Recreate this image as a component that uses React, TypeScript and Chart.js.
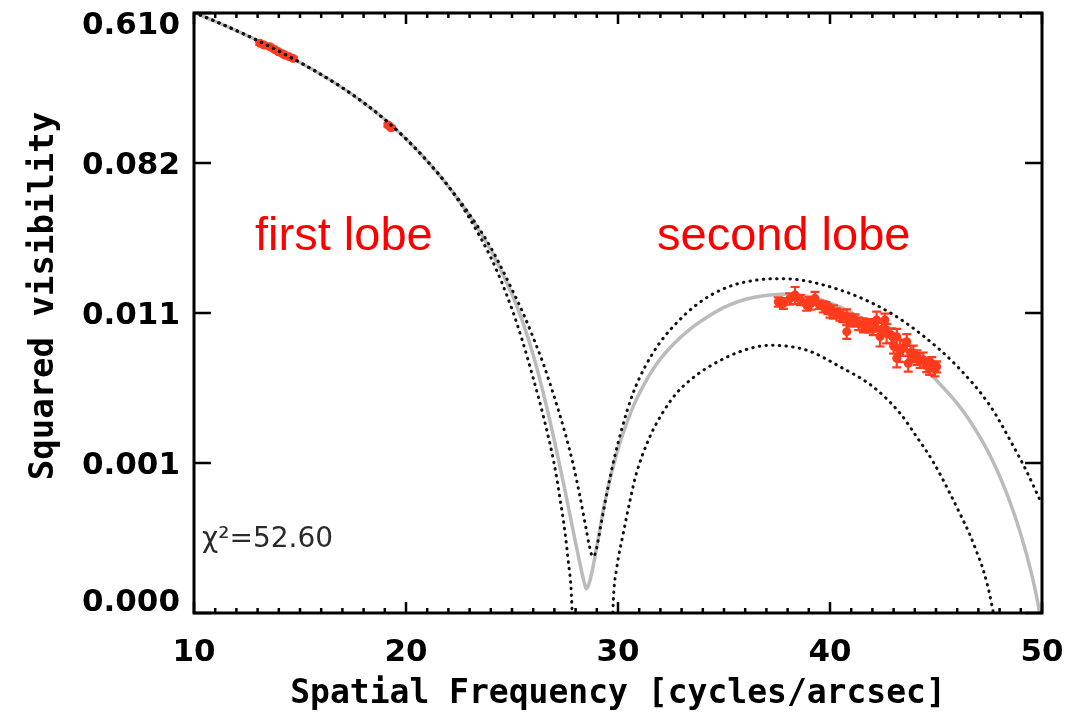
import React, { useEffect, useRef } from 'react';
import { Chart, registerables } from 'chart.js';
Chart.register(...registerables);

// ---- axes ----
const xMin = 10;
const xMax = 50;
const xTickValues = [10, 20, 30, 40, 50];
const yTickValues = [0.00020463, 0.0015121, 0.011173, 0.082554, 0.61];
const yTickLabels = ['0.000', '0.001', '0.011', '0.082', '0.610'];
const xTitle = 'Spatial Frequency [cycles/arcsec]';
const yTitle = 'Squared visibility';

// ---- best-fit model (grey) ----
const modelX = [10, 11, 12, 13, 14, 15, 16, 17, 18, 19, 20, 21, 22, 23, 24, 25, 25.5, 26, 26.5, 27, 27.5, 27.9, 28.2, 28.4, 28.5, 28.6, 28.7, 28.8, 28.92, 29.1, 29.31, 29.55, 29.78, 30.0, 30.25, 30.75, 31.25, 31.83, 32.61, 33.4, 34.18, 35.0, 35.75, 36.5, 37.33, 38.0, 39, 40, 41, 42, 43, 44, 45, 46, 46.6, 47.2, 47.6, 48.0, 48.5, 49.0, 49.5, 49.8, 50];
const modelV = [0.6145, 0.5463, 0.4826, 0.4227, 0.367, 0.3155, 0.2683, 0.2249, 0.1846, 0.1474, 0.1139, 0.0848, 0.0605, 0.041, 0.02574, 0.01434, 0.00995, 0.00638, 0.00374, 0.00204, 0.001049, 0.000599, 0.000398, 0.00031, 0.000283, 0.000295, 0.000323, 0.000367, 0.000439, 0.000581, 0.000809, 0.001114, 0.001458, 0.001818, 0.002265, 0.00328, 0.004361, 0.005685, 0.007372, 0.009005, 0.010515, 0.012034, 0.01311, 0.013843, 0.014264, 0.014408, 0.013926, 0.012793, 0.011255, 0.009506, 0.007728, 0.006054, 0.004585, 0.003346, 0.002648, 0.002009, 0.001622, 0.001271, 0.000891, 0.000584, 0.0003483, 0.0002358, 0.0001687];

// ---- lower bound model (dotted) ----
const lowerX = [10, 11, 12, 13, 14, 15, 16, 17, 18, 19, 20, 21, 22, 23, 24, 24.5, 25, 25.5, 26, 26.5, 27, 27.25, 27.5, 27.65, 27.8, 27.95, 28.8, 29.65, 29.78, 29.95, 30.25, 30.57, 30.85, 31.51, 32.14, 32.77, 33.4, 34.18, 35.75, 37.17, 38.9, 40.47, 42.04, 43.3, 44.1, 44.87, 45.66, 46.13, 46.6, 46.92, 47.23, 47.63, 47.75, 47.9];
const lowerV = [0.6145, 0.5463, 0.4826, 0.4227, 0.367, 0.3155, 0.2683, 0.2249, 0.1846, 0.1474, 0.1139, 0.0848, 0.0605, 0.03939, 0.02341, 0.017, 0.01174, 0.00764, 0.00468, 0.002754, 0.001474, 0.000964, 0.0005995, 0.000412, 0.0002627, 0.00008, 0.00001, 0.00008, 0.0002436, 0.000378, 0.000593, 0.000921, 0.001294, 0.002155, 0.002998, 0.003849, 0.004562, 0.005353, 0.00667, 0.007262, 0.006806, 0.005462, 0.004169, 0.002938, 0.002133, 0.001534, 0.001008, 0.000769, 0.000581, 0.000462, 0.000363, 0.000229, 0.000184, 0.0000914];

// ---- upper bound model (dotted) ----
const upperX = [10, 11, 12, 13, 14, 15, 16, 17, 18, 19, 20, 21, 22, 23, 24, 24.5, 25, 25.53, 26, 26.5, 27, 27.5, 27.9, 28.2, 28.5, 28.65, 28.8, 28.9, 29.0, 29.2, 29.5, 29.8, 30.2, 30.7, 31.3, 32.0, 32.8, 33.6, 34.5, 35.5, 36.5, 37.5, 38.5, 39.68, 41.26, 42.83, 44.4, 45.98, 47.55, 48.65, 49.3, 49.91, 50];
const upperV = [0.6145, 0.5463, 0.4826, 0.4227, 0.367, 0.3155, 0.2683, 0.2249, 0.1846, 0.1474, 0.1139, 0.0848, 0.0605, 0.04159, 0.02678, 0.02044, 0.0153, 0.01111, 0.008067, 0.005572, 0.003624, 0.002265, 0.001458, 0.000978, 0.000624, 0.0005005, 0.000435, 0.000444, 0.000491, 0.000669, 0.001049, 0.001565, 0.002431, 0.00381, 0.005528, 0.007597, 0.009894, 0.01218, 0.014454, 0.016294, 0.0173, 0.01765, 0.017422, 0.016244, 0.013982, 0.011221, 0.00823, 0.005517, 0.003246, 0.001892, 0.001333, 0.000921, 0.000876];

// ---- observations ----
const obsX = [13.11, 13.3, 13.58, 13.8, 13.98, 14.15, 14.29, 14.5, 14.68, 19.15, 19.3,
  37.56, 37.8, 38.1, 38.35, 38.6, 38.9, 39.0, 39.1, 39.29, 39.5, 39.68, 39.8, 39.9, 40.0, 40.16, 40.3, 40.47, 40.6, 40.79, 40.79, 40.9, 41.0, 41.18, 41.35, 41.57, 41.7, 41.8, 42.04, 42.1, 42.2, 42.36, 42.45, 42.59, 42.67, 42.9, 43.0, 43.15, 43.15, 43.3, 43.45, 43.62, 43.69, 43.8, 43.93, 44.1, 44.25, 44.4, 44.56, 44.7, 44.8, 44.95, 45.03];
const obsV = [0.407, 0.398, 0.389, 0.375, 0.364, 0.356, 0.348, 0.34, 0.333, 0.137, 0.132,
  0.01295, 0.01271, 0.0135, 0.0142, 0.0133, 0.01243, 0.013, 0.0127, 0.01359, 0.0125, 0.01215, 0.0121, 0.0118, 0.0114, 0.01137, 0.0112, 0.01088, 0.0108, 0.01064, 0.00871, 0.0103, 0.01, 0.01018, 0.0097, 0.00952, 0.0096, 0.0093, 0.00911, 0.0095, 0.01018, 0.00815, 0.009, 0.01018, 0.00856, 0.0083, 0.0072, 0.00815, 0.00611, 0.00683, 0.007, 0.00762, 0.00571, 0.0066, 0.00653, 0.0062, 0.00597, 0.006, 0.00558, 0.0054, 0.0057, 0.0053, 0.00546];
const obsErr = [0.008, 0.008, 0.008, 0.007, 0.007, 0.007, 0.007, 0.007, 0.006, 0.003, 0.003,
  0.0008, 0.0009, 0.001, 0.0016, 0.0009, 0.0009, 0.0008, 0.001, 0.0012, 0.0007, 0.0009, 0.0008, 0.0008, 0.0009, 0.001, 0.0007, 0.0008, 0.0009, 0.0011, 0.0008, 0.0008, 0.0007, 0.0008, 0.0008, 0.0009, 0.0007, 0.0007, 0.0008, 0.0008, 0.0012, 0.001, 0.0008, 0.0009, 0.0011, 0.0008, 0.0007, 0.0009, 0.0007, 0.001, 0.0007, 0.0008, 0.0006, 0.0006, 0.0007, 0.0006, 0.0006, 0.0006, 0.0005, 0.0005, 0.0005, 0.0005, 0.0004];

// ---- annotations ----
const notes = [
  { text: 'first lobe', x: 12.88, y: 0.0259, color: '#ff0000', font: '47px "Liberation Sans", Arial, sans-serif' },
  { text: 'second lobe', x: 31.84, y: 0.0259, color: '#ff0000', font: '47px "Liberation Sans", Arial, sans-serif' },
  { text: 'χ²=52.60', x: 10.38, y: 0.000493, color: '#2a2a2a', font: '28px "DejaVu Sans", sans-serif' },
];

const toXY = (xs: number[], ys: number[]) => xs.map((x, i) => ({ x, y: ys[i] }));

const OBS_INDEX = 1;
const RED = '#ff3b1e';

const errorBarPlugin = {
  id: 'errorBars',
  afterDatasetDraw(chart: any, args: any) {
    if (args.index !== OBS_INDEX) return;
    const { ctx, scales, chartArea: a } = chart;
    const x = scales.x;
    const y = scales.y;
    ctx.save();
    ctx.beginPath();
    ctx.rect(a.left, a.top, a.right - a.left, a.bottom - a.top);
    ctx.clip();
    ctx.strokeStyle = RED;
    ctx.lineWidth = 2.2;
    ctx.beginPath();
    for (let i = 0; i < obsX.length; i++) {
      const px = x.getPixelForValue(obsX[i]);
      const p1 = y.getPixelForValue(obsV[i] + obsErr[i]);
      const p2 = y.getPixelForValue(Math.max(obsV[i] - obsErr[i], 1e-6));
      ctx.moveTo(px, p1);
      ctx.lineTo(px, p2);
      ctx.moveTo(px - 4.5, p1);
      ctx.lineTo(px + 4.5, p1);
      ctx.moveTo(px - 4.5, p2);
      ctx.lineTo(px + 4.5, p2);
    }
    ctx.stroke();
    ctx.restore();
  },
};

const framePlugin = {
  id: 'frame',
  afterDatasetsDraw(chart: any) {
    const { ctx, chartArea: a, scales } = chart;
    const x = scales.x;
    const y = scales.y;
    ctx.save();
    ctx.strokeStyle = '#000';
    ctx.lineWidth = 3;
    ctx.strokeRect(a.left, a.top, a.right - a.left, a.bottom - a.top);
    ctx.lineWidth = 2.5;
    ctx.beginPath();
    for (let v = xMin; v <= xMax; v += 1) {
      const px = x.getPixelForValue(v);
      const len = v % 10 === 0 ? 11 : 5;
      ctx.moveTo(px, a.bottom);
      ctx.lineTo(px, a.bottom - len);
      ctx.moveTo(px, a.top);
      ctx.lineTo(px, a.top + len);
    }
    for (const v of yTickValues) {
      const py = y.getPixelForValue(v);
      ctx.moveTo(a.left, py);
      ctx.lineTo(a.left + 17, py);
      ctx.moveTo(a.right, py);
      ctx.lineTo(a.right - 17, py);
    }
    ctx.stroke();
    ctx.restore();
  },
  afterDraw(chart: any) {
    const { ctx, chartArea: a, scales } = chart;
    // y tick labels (kept inside the axis span, as in the original)
    ctx.save();
    ctx.fillStyle = '#000';
    ctx.font = 'bold 31px "DejaVu Sans", sans-serif';
    ctx.textAlign = 'right';
    ctx.textBaseline = 'middle';
    yTickValues.forEach((v, i) => {
      const py = scales.y.getPixelForValue(v) + 3;
      const cy = Math.min(Math.max(py, a.top + 13), a.bottom - 10);
      ctx.fillText(yTickLabels[i], a.left - 14, cy);
    });
    ctx.restore();

    // y-axis title
    ctx.save();
    ctx.fillStyle = '#000';
    ctx.font = 'bold 34px "DejaVu Sans Mono", monospace';
    ctx.textAlign = 'center';
    ctx.textBaseline = 'alphabetic';
    ctx.translate(53, (a.top + a.bottom) / 2 - 17);
    ctx.rotate(-Math.PI / 2);
    ctx.fillText(yTitle, 0, 0);
    ctx.restore();

    ctx.save();
    ctx.textAlign = 'left';
    ctx.textBaseline = 'alphabetic';
    for (const n of notes) {
      ctx.font = n.font;
      ctx.fillStyle = n.color;
      ctx.fillText(n.text, scales.x.getPixelForValue(n.x), scales.y.getPixelForValue(n.y));
    }
    ctx.restore();
  },
};

export default function App() {
  const ref = useRef<HTMLCanvasElement | null>(null);
  useEffect(() => {
    if (!ref.current) return;
    const dotted = {
      borderColor: '#111',
      borderWidth: 3,
      borderDash: [0.5, 6.2],
      borderCapStyle: 'round',
      pointRadius: 0,
      fill: false,
      cubicInterpolationMode: 'monotone',
    };
    const chart = new Chart(ref.current, {
      type: 'line',
      data: {
        datasets: [
          { label: 'upper', data: toXY(upperX, upperV), ...dotted, order: 1 },
          {
            label: 'observed',
            data: toXY(obsX, obsV),
            showLine: false,
            pointRadius: 4.5,
            pointBackgroundColor: RED,
            pointBorderWidth: 0,
            borderColor: RED,
            order: 2,
          },
          { label: 'lower', data: toXY(lowerX, lowerV), ...dotted, order: 1 },
          {
            label: 'model',
            data: toXY(modelX, modelV),
            borderColor: '#bbbbbb',
            borderWidth: 3.5,
            pointRadius: 0,
            fill: false,
            cubicInterpolationMode: 'monotone',
            order: 3,
          },
        ],
      },
      options: {
        animation: false,
        responsive: false,
        events: [],
        layout: { padding: { left: 0, top: 13, right: 47, bottom: 0 } },
        plugins: { legend: { display: false }, tooltip: { enabled: false } },
        scales: {
          x: {
            type: 'linear',
            min: xMin,
            max: xMax,
            afterBuildTicks: (s: any) => {
              s.ticks = xTickValues.map((v) => ({ value: v }));
            },
            afterFit: (s: any) => {
              s.height = 103;
              s.paddingLeft = 0;
              s.paddingRight = 0;
            },
            ticks: {
              font: { family: '"DejaVu Sans", sans-serif', weight: 'bold', size: 31 },
              color: '#000',
              padding: 21,
              maxRotation: 0,
              autoSkip: false,
            },
            grid: { display: false, drawTicks: false },
            border: { display: false },
            title: {
              display: true,
              text: xTitle,
              color: '#000',
              font: { family: '"DejaVu Sans Mono", monospace', weight: 'bold', size: 33 },
              padding: { top: 0, bottom: 2 },
            },
          },
          y: {
            type: 'logarithmic',
            min: yTickValues[0],
            max: yTickValues[yTickValues.length - 1],
            afterBuildTicks: (s: any) => {
              s.ticks = yTickValues.map((v) => ({ value: v }));
            },
            afterFit: (s: any) => {
              s.width = 194;
              s.paddingTop = 0;
              s.paddingBottom = 0;
            },
            ticks: { display: false },
            grid: { display: false, drawTicks: false },
            border: { display: false },
          },
        },
      },
      plugins: [errorBarPlugin, framePlugin],
    } as any);
    return () => chart.destroy();
  }, []);

  return (
    <div style={{ position: 'fixed', left: 0, top: 0, width: 1089, height: 716, background: '#fff' }}>
      <canvas ref={ref} width={1089} height={716} style={{ width: 1089, height: 716, display: 'block' }} />
    </div>
  );
}
